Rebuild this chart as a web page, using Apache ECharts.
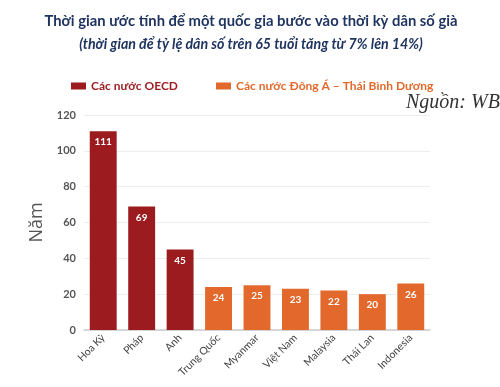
<!DOCTYPE html>
<html>
<head>
<meta charset="utf-8">
<script src="https://cdn.jsdelivr.net/npm/echarts@6/dist/echarts.min.js"></script>
<style>
  html, body { margin: 0; padding: 0; background: #fff; }
  #chart { width: 500px; height: 387px; }
</style>
</head>
<body>
<div id="chart"></div>
<script>
// du lieu
var countries = ['Hoa Kỳ', 'Pháp', 'Anh', 'Trung Quốc', 'Myanmar', 'Việt Nam', 'Malaysia', 'Thái Lan', 'Indonesia'];
var oecdYears = [111, 69, 45, null, null, null, null, null, null];
var eastAsiaYears = [null, null, null, 24, 25, 23, 22, 20, 26];
var yTicks = [0, 20, 40, 60, 80, 100, 120];

var red = '#9b1b1f';
var orange = '#e2692b';

var myChart = echarts.init(document.getElementById('chart'));
var labelStyle = {
    show: true,
    position: 'insideTop',
    color: '#fff',
    fontWeight: 'bold',
    fontSize: 10,
    fontFamily: 'Lato',
    distance: 6
};
var option = {
    title: [{
        text: 'Thời gian ước tính để một quốc gia bước vào thời kỳ dân số già',
        left: 246, top: 9, textAlign: 'center',
        textStyle: { fontSize: 14.8, fontWeight: 'bold', color: '#1f3560', fontFamily: 'Lato' }
    }, {
        text: '(thời gian để tỷ lệ dân số trên 65 tuổi tăng từ 7% lên 14%)',
        left: 246, top: 32, textAlign: 'center',
        textStyle: { fontSize: 14.2, fontWeight: 'bold', fontStyle: 'italic', color: '#1f3560', fontFamily: 'Lato' }
    }, {
        text: 'Nguồn: WB',
        left: 401, top: 88,
        textStyle: { fontSize: 20, fontWeight: 'normal', fontStyle: 'italic', color: '#333', fontFamily: 'Liberation Serif' }
    }],
    legend: {
        left: 66, top: 75,
        itemWidth: 15, itemHeight: 7, itemGap: 38,
        icon: 'rect',
        textStyle: { fontSize: 12, fontWeight: 'bold', fontFamily: 'Lato' },
        data: [
            { name: 'Các nước OECD', textStyle: { color: red } },
            { name: 'Các nước Đông Á – Thái Bình Dương', textStyle: { color: orange } }
        ]
    },
    grid: { left: 84, right: 70, top: 115, bottom: 57 },
    xAxis: {
        type: 'category',
        data: countries,
        axisLine: { lineStyle: { color: '#ccc', width: 1.5 } },
        axisTick: { alignWithLabel: true, lineStyle: { color: '#999' }, length: 4 },
        axisLabel: { rotate: 45, color: '#444', fontSize: 10.5, fontFamily: 'Lato', interval: 0, margin: 6 }
    },
    yAxis: {
        type: 'value',
        min: 0, max: yTicks[yTicks.length - 1], interval: 20,
        name: 'Năm',
        nameLocation: 'middle',
        nameGap: 34,
        nameTextStyle: { fontSize: 18, color: '#555', fontFamily: 'Open Sans' },
        axisLabel: { color: '#555', fontSize: 11, fontWeight: 'bold', fontFamily: 'Lato', margin: 8 },
        splitLine: { lineStyle: { color: '#eee' } },
        axisLine: { show: false },
        axisTick: { show: false }
    },
    series: [{
        name: 'Các nước OECD',
        type: 'bar',
        stack: 'all',
        barWidth: '70%',
        itemStyle: { color: red },
        label: labelStyle,
        data: oecdYears
    }, {
        name: 'Các nước Đông Á – Thái Bình Dương',
        type: 'bar',
        stack: 'all',
        barWidth: '70%',
        itemStyle: { color: orange },
        label: labelStyle,
        data: eastAsiaYears
    }]
};
myChart.setOption(option);
</script>
</body>
</html>
